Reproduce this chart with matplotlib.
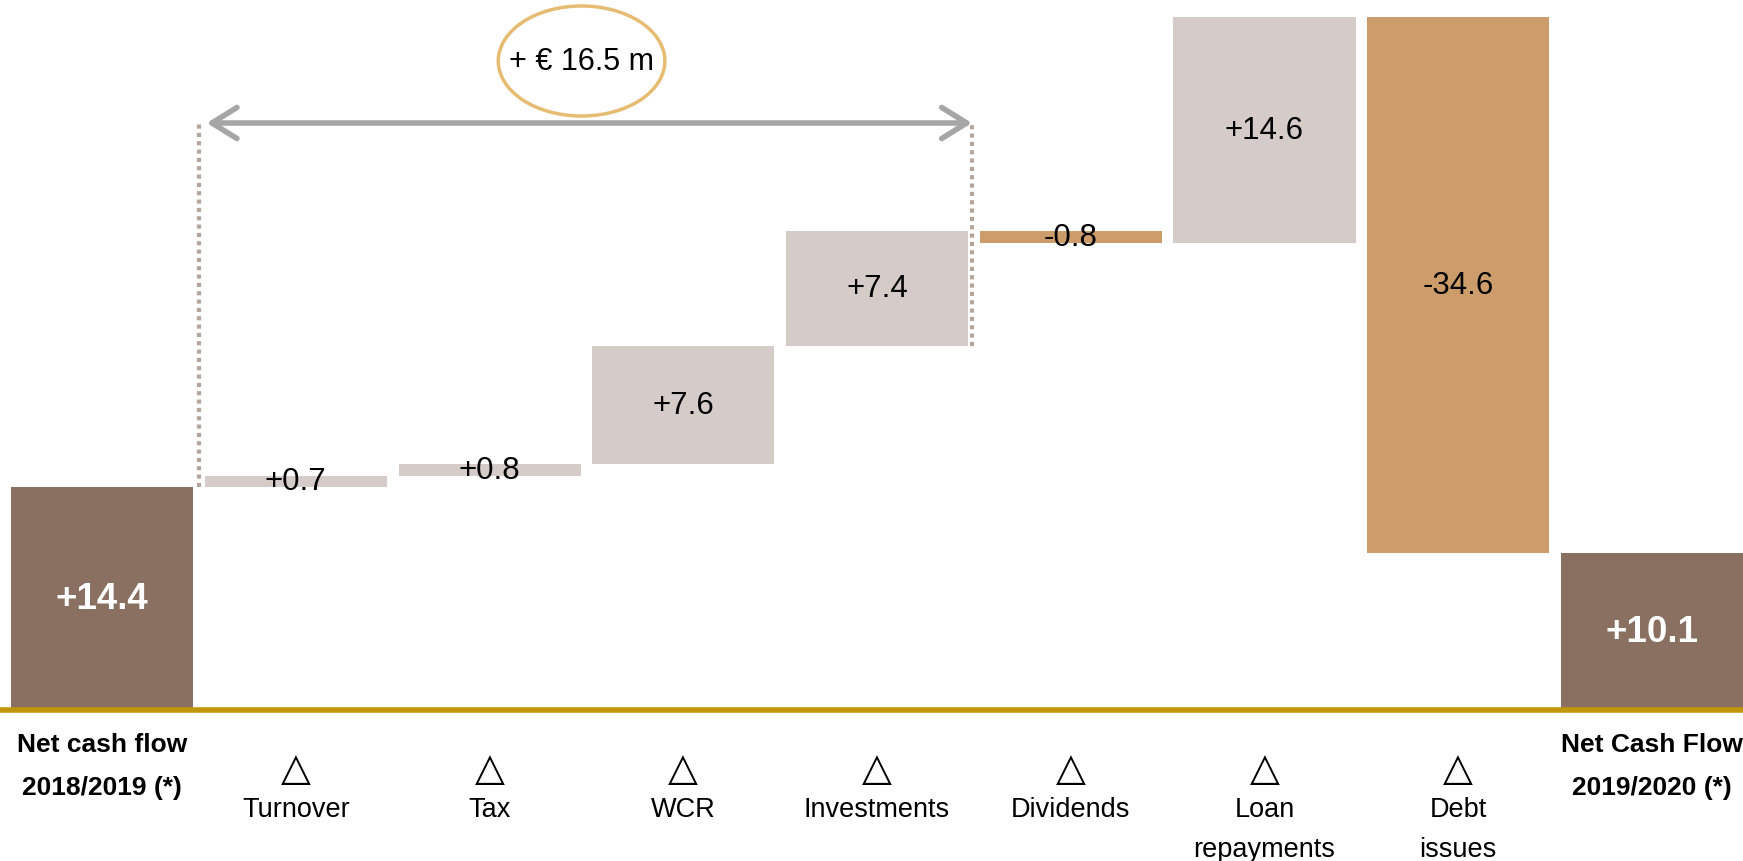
import matplotlib.pyplot as plt
from matplotlib.patches import Ellipse

# Data
categories = ['Net cash flow\n2018/2019 (*)', 'Turnover', 'Tax', 'WCR', 'Investments',
              'Dividends', 'Loan\nrepayments', 'Debt\nissues', 'Net Cash Flow\n2019/2020 (*)']
values = [14.4, 0.7, 0.8, 7.6, 7.4, -0.8, 14.6, -34.6, 10.1]
is_total = [True, False, False, False, False, False, False, False, True]
bracket_value = 16.5  # Turnover + Tax + WCR + Investments

c_total = '#8A7060'
c_up = '#D5CCCA'
c_down = '#CD9C6B'
c_axis = '#C0960A'

plt.rcParams['font.family'] = ['Liberation Sans', 'DejaVu Sans']

fig = plt.figure(figsize=(17.43, 8.62), dpi=100)
ax = fig.add_axes([0, 0, 1, 1])

# waterfall bottoms
bottoms = []
level = 0
for v, tot in zip(values, is_total):
    if tot:
        bottoms.append(0)
        level = v
    else:
        bottoms.append(level if v >= 0 else level + v)
        level += v

colors = [c_total if t else (c_up if v >= 0 else c_down) for v, t in zip(values, is_total)]
x = list(range(len(values)))
width = 0.94
ax.bar(x, [abs(v) for v in values], bottom=bottoms, width=width, color=colors, zorder=2)

for i, (v, b, t) in enumerate(zip(values, bottoms, is_total)):
    yc = b + abs(v) / 2
    if t:
        ax.text(i, yc, f'{v:+.1f}', ha='center', va='center', color='white',
                fontsize=26.5, fontweight='bold', zorder=4)
    else:
        ax.text(i, yc, f'{v:+.1f}', ha='center', va='center', color='black',
                fontsize=22.5, zorder=4)

ax.axhline(0, color=c_axis, lw=4, zorder=3)

# category labels
for i, (name, t) in enumerate(zip(categories, is_total)):
    if t:
        ax.text(i, -3.55, name, ha='center', va='center', fontsize=19,
                fontweight='bold', linespacing=2.0)
    else:
        ax.text(i, -3.74, '\u25B3', ha='center', va='center', fontsize=28,
                family=['DejaVu Sans'])
        ax.text(i, -5.55, name, ha='center', va='top', fontsize=19.5, linespacing=1.7)

# bracket over the operating items
top_y = 37.87
x_left = 0.5
x_right = 4 + width / 2 + 0.02
ax.plot([x_left, x_left], [values[0], top_y], color='#B5A69B', lw=3,
        linestyle=(0, (1, 1)), zorder=1)
ax.plot([x_right, x_right], [bottoms[4], top_y], color='#B5A69B', lw=3,
        linestyle=(0, (1, 1)), zorder=1)
ax.annotate('', xy=(x_right, top_y), xytext=(x_left + 0.04, top_y),
            arrowprops=dict(arrowstyle='<->, head_length=0.45, head_width=0.28',
                            color='#A6A6A6', lw=4, mutation_scale=40,
                            shrinkA=0, shrinkB=0))
xm = (x_left + x_right) / 2 - 0.02
ax.add_patch(Ellipse((xm, 41.87), 0.86, 7.1, fill=False, edgecolor='#E6BC73', lw=2.5))
ax.text(xm, 41.87, f'+ \u20ac {bracket_value} m', ha='center', va='center', fontsize=22)

ax.set_xlim(-0.527, 8.47)
ax.set_ylim(-9.74, 45.87)
ax.axis('off')

fig.savefig('out.png', dpi=100)
